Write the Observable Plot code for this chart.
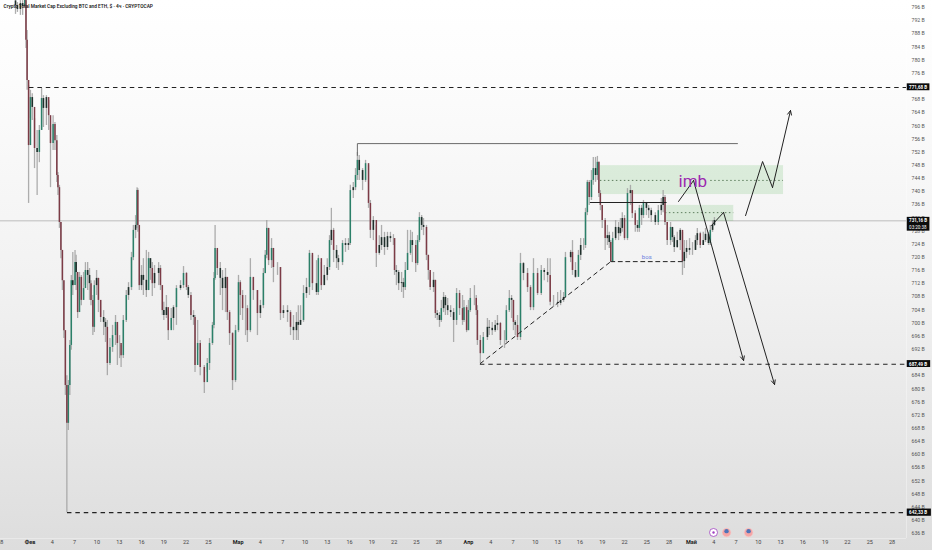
<!DOCTYPE html>
<html><head><meta charset="utf-8">
<script src="https://cdn.jsdelivr.net/npm/d3@7"></script>
<script src="https://cdn.jsdelivr.net/npm/@observablehq/plot@0.6"></script>
<style>html,body{margin:0;padding:0;background:#fff}svg{display:block}</style>
</head><body><div id="c"></div>
<script>
// Candle readings: days since 1 Feb, close, high, low (billions USD)
const candleDay=[-1.96,-1.7,-1.3,-1,-0.7,-0.55,-0.4,-0.2,0.05,0.3,0.6,0.95,1.25,1.55,1.8,2.2,2.5,2.75,3.1,3.35,3.6,3.75,3.95,4.15,4.35,4.55,4.75,4.95,5.15,5.35,5.55,5.75,6.05,6.2,6.4,6.65,6.9,7.2,7.45,7.75,8,8.2,8.45,8.65,8.95,9.2,9.5,9.9,10.15,10.4,10.75,11.1,11.5,11.75,12.05,12.25,12.55,12.95,13.25,13.65,13.9,14.2,14.4,14.5,14.7,15,15.25,15.65,15.95,16.2,16.45,16.75,17.3,17.55,17.8,18,18.35,18.6,19,19.3,19.7,20.25,20.65,21.05,21.3,21.65,22,22.2,22.55,22.9,23.45,23.85,24.15,24.55,24.75,24.9,25.2,25.6,25.9,26.3,26.55,26.85,27.25,27.65,28.05,28.3,28.6,29,29.25,29.65,30.05,30.6,31,31.4,31.65,31.85,32.1,32.5,32.75,33.3,33.7,34.1,34.65,35.05,35.45,35.85,36.1,36.4,36.8,37.2,37.6,38,38.55,38.8,39.2,39.6,40,40.3,40.55,40.85,41.25,41.5,42.05,42.45,42.85,43.1,43.5,43.8,44.05,44.3,44.75,45.15,45.55,45.8,46.2,46.6,47,47.3,47.7,48.1,48.5,48.9,49.05,49.3,49.6,50,50.25,50.5,50.8,51.2,51.45,51.9,52.15,52.4,52.7,52.95,53.35,53.6,53.85,54.3,54.55,54.8,55.1,55.35,55.65,55.9,56.2,56.6,57,57.4,57.8,58.2,58.4,58.75,59,59.25,59.8,60.05,60.2,60.6,61,61.55,61.8,62.2,62.6,62.9,63.3,63.85,64.1,64.5,64.8,65.05,65.3,65.6,66,66.4,66.95,67.35,67.75,68.3,68.8,69.2,69.65,70,70.45,71,71.4,71.8,72.05,72.75,73,73.4,73.8,74.1,74.5,74.75,75,75.25,75.55,75.8,76.1,76.35,76.55,76.75,77,77.4,77.7,77.95,78.15,78.4,78.8,79.2,79.45,79.7,80,80.4,80.8,81.05,81.45,81.75,82,82.3,82.55,82.95,83.25,83.6,84.15,84.55,84.95,85.2,85.45,85.75,86.2,86.45,86.7,87.1,87.5,87.8,88.05,88.35,88.75,89.15,89.55,89.8,90.2,90.6,90.9,91.3,91.55,91.85,92.1];
const candleClose=[796.6,795.4,797.2,796.3,801.2,786,773.8,754,768.6,765.6,753.1,751.9,758.6,768.3,765.3,768.6,763.1,754.6,760.4,755.5,744.9,741.2,730.6,722.1,712.9,697.7,681,669.5,681,693.2,712.9,711.4,718.4,715.4,703.2,713.9,706.9,710.5,716,714.5,712,706.9,698.7,711.4,713.6,706.9,701.7,700.2,698.7,687.7,692.6,696.2,700.2,693.8,693.8,690.1,700.8,708.4,710.8,719.9,728.2,729.7,740.3,729.7,711.4,714.5,713,709.9,719.6,716.6,712,715.1,716.6,711.4,703.8,702.3,704.7,697.7,701.4,704.7,710.5,711.4,715.1,710.8,708.4,702.3,701.7,687.1,693.8,686.5,681.9,687.7,693.8,699.3,713.6,722.7,716.6,713.6,710.5,713.9,703.2,696.8,682.5,697.7,712.3,708.4,704.4,704.4,697.7,713.9,709.9,702.9,705.3,715.1,720.6,728.8,719,722.7,716.9,716.9,702.9,703.8,703.2,698.7,697.7,700.2,699.3,700.8,709,710.8,721.2,712,709.3,719.6,711.4,714.5,716.9,725.1,728.2,722.1,719.6,718.4,724.2,723.6,724.2,740.3,741.2,744.9,749.5,746.4,743.4,748.5,736.4,728.2,731.2,721.2,723.6,726,723,726.3,725.7,725.7,716,715.4,712,712.3,710.8,716,721.2,725.1,723.6,718.1,725.1,732.1,729.7,729.1,720.6,716,710.8,713,702.9,702.3,700.8,704.4,707.8,705.3,703.8,703.2,700.8,709,704.4,700.8,704.7,697.7,703.8,707.5,707.5,703.8,694.7,690.7,695.6,698.7,698.4,697.7,699.3,699.9,694.7,694.7,703.8,707.5,706.9,700.2,699.3,695.6,718.1,715.1,710.8,704.7,715.1,709,716,715.4,714.5,706.3,706.3,706,706.9,707.8,719.9,721.5,716,713.9,720.6,723.6,723.6,733.6,742.8,738.2,743.4,747,744.9,748.9,739.4,735.8,731.2,725.7,726.6,724.5,718.7,725.7,729.1,727.2,728.8,731.8,725.7,739.4,740.3,733.3,729.7,728.8,734.9,732.7,736.4,734.9,734.2,732.7,730.6,734.2,735.8,738.2,730.6,725.1,729.1,726,723,725.1,728.2,718.7,721.5,722.7,722.1,722.1,725.1,727.2,723.6,725.1,727,724.2,728.2,729.7,731.2];
const candleHigh=[798.1,797.5,798.1,798.1,805,798,789,772.3,770.8,769.8,762.2,758.6,760.1,771.4,769.2,769.2,767.7,760.1,763.1,761,757.1,745.8,741.9,730.6,722.1,712.9,697.7,684,682.5,694.7,714.5,721.5,722.1,720.6,712.9,715.4,714.5,715.4,718.4,718.4,716.6,712.9,708.4,712.9,716,713.6,706.9,703.8,701.4,700.8,695.3,699.3,702.3,699.3,696.2,693.2,702.3,709.9,712.3,721.5,729.7,732.7,741.2,740.9,729.7,717.5,719.6,722.1,721.5,719.6,718.4,717.5,718.4,717.5,711.4,706.3,708.4,703.8,704.4,705.3,711.4,712.9,717.2,715.4,711.4,709.3,703.8,702.3,700.8,694.7,687.1,689.2,695.3,700.2,715.4,729.7,722.1,718.4,716,716.6,713.6,703.8,697.1,699.3,714.5,712.9,709.9,708.4,705.3,719.6,713.6,709.9,706.9,716.6,722.1,731.2,728.8,725.7,722.7,718.4,716.9,705.3,705.3,703.8,702.3,703.2,705.3,705.3,711.4,713.6,722.1,720.6,719,720.6,718.4,717.5,719.6,726.6,734.9,728.8,723.6,720.6,725.1,725.7,725.7,741.9,742.8,747,751.9,751,747,749.5,747.9,737.3,732.4,729.7,726.6,729.7,727.6,727.6,727.6,726.9,725.7,717.5,716,715.4,713.6,718.4,728.2,728.2,727.6,725.1,726.6,733.6,732.7,731.8,729.7,720.6,715.4,715.4,713,703.8,703.2,706.9,709.3,708.4,707.5,705.3,704.4,710.5,709.9,708.4,706.9,705.3,706.9,710.5,711.4,708.4,705.3,696.2,697.1,701.4,700.8,700.2,700.8,702.3,700.2,697.7,705.3,709.9,708.4,706.9,700.8,702.3,721.2,718.4,716.6,711.4,719.6,716.6,717.5,716.6,719.6,719.6,708.4,709.3,709.9,709.3,721.5,722.1,725.1,718.4,722.1,725.7,725.7,734.9,743.4,743.4,746.4,750.4,750.4,750.7,748.9,740.3,735.8,731.8,729.7,727.6,725.1,727.6,731.2,730.6,731.8,733.6,732.7,740.9,741.9,740.3,734.2,731.2,735.8,735.8,737.3,736.7,735.8,734.9,733.6,735.8,737.9,740.3,738.8,730.6,730.6,728.8,726.6,727.6,728.8,727.6,725.1,725.1,725.7,724.5,726.6,728.8,727.6,727.6,728.8,727.6,729.7,731.2,732.1];
const candleLow=[793.9,794.5,793.6,793.6,796,783.5,770.8,736.4,762.2,761.6,747,738.8,748.8,758.6,759.5,760.1,758.6,741.2,752.5,752.5,742.8,738.8,728.8,719.6,709.9,695.3,678,642.4,667.3,678,691.7,708.4,712.9,709.9,701.4,706.9,705.3,706.9,711.4,709.9,706.9,705.3,696.2,697.1,708.4,703.2,700.2,696.2,694.1,684,687.1,691.1,693.2,687.1,689.2,686.5,689.2,700.2,706.9,709.9,719,725.7,728.8,727.6,709.9,709.9,708.4,707.8,709.9,713,708.1,710.5,711.4,709.9,702.3,700.8,701.4,694.7,698.3,697.7,699.3,709.9,710.5,709.9,707.5,700.8,699.3,685,691.7,684,678.6,685,685.6,693.2,698.3,713,714.5,708.4,703.8,703.2,700.8,693.2,679.5,681.9,697.1,702.3,700.8,696.2,694.1,697.1,706.9,696.2,701.4,704.4,715,719.6,717.5,716.6,712.3,714.5,700.8,701.4,700.2,696.2,694.7,694.7,694.7,700.2,700.2,707.5,708.4,709.9,708.4,708.4,709.9,711.4,712.9,716,723.6,718.4,716.6,716,717.5,721.5,722.1,723.6,737.9,740.3,743.4,743.4,740.3,742.8,734.9,725.7,725.1,716.9,720.6,722.1,720.6,722.1,724.5,723.6,714.5,711.4,709.9,709.3,707.5,709.9,716,720.6,718.4,715.4,717.5,724.5,728.2,726.6,719,713,709.9,709.3,701.4,700.8,698.7,700.2,703.2,702.3,702.3,701.7,694.1,699.3,702.3,699.3,700.2,697.1,697.7,703.2,705.3,702.3,693.2,687.7,691.7,694.7,696.2,696.2,697.1,697.7,693.2,692.3,694.1,703.2,701.4,697.7,696.2,694.7,694.7,712.9,709.3,703.8,703.8,708.4,708.4,712.9,712.3,705.3,704.7,704.7,705.3,706.3,707.5,718.4,714.5,713.6,714.5,719,722.1,722.7,732.7,735.8,737.3,741.9,742.8,743.4,738.2,734.2,728.8,722.1,723.6,722.7,718.4,718.4,725.1,725.1,726.3,727.6,725.1,725.1,735.8,731.8,727.6,727.6,727.6,729.7,731.8,732.7,731.8,730.6,729.7,729.7,732.7,733.6,729.7,723.6,723.6,724.5,721.5,722.7,722.1,714.5,716.6,719.6,720.6,720.6,722.1,723.6,722.7,723.6,724.5,723.6,723.6,727.6,729.4];

const priceTicks=d3.range(636,797,4).filter(v=>v!==772&&v!==688);
const dayTicks=[-4,3,6,9,12,15,18,21,24,31,34,37,40,43,46,49,52,55,62,65,68,71,74,77,80,83,86,92,95,98,101,104,107,110,113,116];
const dayLabels=["28","4","7","10","13","16","19","22","25","4","7","10","13","16","19","22","25","28","4","7","10","13","16","19","22","25","28","4","7","10","13","16","19","22","25","28"];
const monthTicks=[0,28,59,89];
const monthLabels=["Фев","Мар","Апр","Май"];

const levelValues=[771.68,687.49,642.33];
const levelStarts=[-0.08,60.6,5.03];
const levelLabels=["771,68 B","687,49 B","642,33 B"];
const currentPrice=731.16;
const currentLabel="731,16 B";
const countdown="03:20:38";
const edgeDay=117.95;

const zoneDays=[[76.75,101.4],[85.5,94.7]];
const zoneTops=[747.9,735.8];
const zoneBottoms=[739.1,730.9];
const dottedDays=[[76.75,86.2],[91.6,101.4],[85.5,94.7]];
const dottedValues=[743.4,743.4,733.6];

const paths=[
 {days:[87.27,89.29,96.02],vals:[736.99,743.37,688.62]},
 {days:[91.71,93.33,100.19],vals:[729.7,733.64,681.32]},
 {days:[96.29,98.58,99.92,102.34],vals:[732.7,749.15,741.24,764.67]}
];
const eventDays=[91.98,93.73,96.7];
const eventValue=636.3;

const t0=Date.UTC(2025,1,1);
const D=d=>new Date(t0+d*864e5);

const candles=candleDay.map((d,i)=>{
  const open=i?candleClose[i-1]:798;
  return {x:D(d),open,close:candleClose[i],high:candleHigh[i],low:candleLow[i],
    kind:Math.abs(candleClose[i]-open)<3.5?"small":candleClose[i]>=open?"up":"down"};
});
const zones=zoneDays.map((z,i)=>({x1:D(z[0]),x2:D(z[1]),y1:zoneTops[i],y2:zoneBottoms[i]}));
const dotted=dottedDays.map((z,i)=>({x1:D(z[0]),x2:D(z[1]),y:dottedValues[i]}));
const levels=levelValues.map((v,i)=>({x1:D(levelStarts[i]),x2:D(edgeDay),y:v}));
const F="Roboto, 'Noto Sans', sans-serif";
const rectBox=(v,hu,hd,end)=>({x1:D(edgeDay+0.1),x2:D(end),y1:v+hu,y2:v-hd});
const boxes=[rectBox(771.68,1.1,1.0,121.1),rectBox(687.49,1.1,1.0,121.2),rectBox(642.33,1.1,1.1,121.3),rectBox(731.16,1.0,3.2,121.1)];

const chart=Plot.plot({
  width:932,height:550,marginTop:0,marginLeft:0,marginRight:26,marginBottom:12,
  style:{background:"linear-gradient(#ffffff 0%,#fcfcfc 15%,#f2f2f2 50%,#e6e6e6 80%,#dddddd 100%)",fontFamily:F,overflow:"hidden"},
  x:{type:"utc",domain:[D(-3.98),D(edgeDay)],axis:null},
  y:{domain:[634.47,798.13],axis:null},
  marks:[
    Plot.ruleY([currentPrice],{stroke:"#cfcfcf",strokeWidth:1.5}),
    Plot.rect(zones,{x1:"x1",x2:"x2",y1:"y1",y2:"y2",fill:"#4caf50",fillOpacity:0.17}),
    Plot.ruleY(dotted,{x1:"x1",x2:"x2",y:"y",stroke:"#5f7f5f",strokeWidth:1,strokeDasharray:"1.5,2.5"}),
    Plot.ruleX(candles,{x:"x",y1:"low",y2:"high",stroke:"#a0a0a0",strokeWidth:1.3,strokeOpacity:0.85,clip:true}),
    Plot.ruleX(candles.filter(c=>c.kind==="up"),{x:"x",y1:"open",y2:"close",stroke:"#2b8069",strokeWidth:1.5,clip:true}),
    Plot.ruleX(candles.filter(c=>c.kind==="down"),{x:"x",y1:"open",y2:"close",stroke:"#7c3b46",strokeWidth:1.5,clip:true}),
    Plot.ruleX(candles.filter(c=>c.kind==="small"),{x:"x",y1:"open",y2:"close",stroke:"#1f2f2b",strokeWidth:1.6,clip:true}),
    // levels
    Plot.ruleY(levels,{x1:"x1",x2:"x2",y:"y",stroke:"#222",strokeWidth:1.1,strokeDasharray:"4.5,3.9"}),
    Plot.line([[60.6,687.7],[78.15,718.7]],{x:d=>D(d[0]),y:d=>d[1],stroke:"#222",strokeWidth:1,strokeDasharray:"4,4"}),
    Plot.line([[78.15,718.7],[87.8,718.7]],{x:d=>D(d[0]),y:d=>d[1],stroke:"#222",strokeWidth:1,strokeDasharray:"4,3.5"}),
    Plot.line([[44.05,751],[44.05,754.6],[95.2,754.6]],{x:d=>D(d[0]),y:d=>d[1],stroke:"#6a6a6a",strokeWidth:1}),
    Plot.line([[75.4,736.7],[85.6,736.7]],{x:d=>D(d[0]),y:d=>d[1],stroke:"#222",strokeWidth:1.1}),
    ...paths.flatMap(p=>{
      const pts=p.days.map((d,i)=>({x:D(d),y:p.vals[i]}));
      const n=pts.length;
      return [
        Plot.line(pts.slice(0,n-1),{x:"x",y:"y",stroke:"#222",strokeWidth:1}),
        Plot.arrow([{a:pts[n-2],b:pts[n-1]}],{x1:d=>d.a.x,y1:d=>d.a.y,x2:d=>d.b.x,y2:d=>d.b.y,stroke:"#222",strokeWidth:1,bend:0,headLength:7,headAngle:50})
      ];
    }),
    Plot.text(["imb"],{x:D(89.2),y:743.2,text:d=>d,fill:"#9c27b0",fontSize:17,fontWeight:400,textAnchor:"middle",lineAnchor:"middle"}),
    Plot.text(["bos"],{x:D(83),y:720,text:d=>d,fill:"#6a80e0",fontSize:6,textAnchor:"middle",lineAnchor:"middle"}),
    // axes
    Plot.axisX({anchor:"bottom",ticks:dayTicks.map(D),tickSize:0,tickPadding:2,fontSize:5.5,fill:"#444",
      tickFormat:(d)=>dayLabels[dayTicks.indexOf(Math.round((+d-t0)/864e5))]}),
    Plot.axisX({anchor:"bottom",ticks:monthTicks.map(D),tickSize:0,tickPadding:2,fontSize:5.5,fontWeight:700,fill:"#222",
      tickFormat:(d)=>monthLabels[monthTicks.indexOf(Math.round((+d-t0)/864e5))]}),
    Plot.axisY({anchor:"right",ticks:priceTicks,tickSize:0,tickPadding:5,fontSize:5.2,fill:"#555",tickFormat:v=>v+" B"}),
    Plot.ruleY([634.47],{stroke:"#fff",strokeOpacity:0.35}),
    Plot.ruleX([D(edgeDay)],{stroke:"#fff",strokeOpacity:0.35}),
    // events
    Plot.dot(eventDays.slice(0,1),{x:D,y:()=>eventValue,r:4,fill:"#fff",stroke:"#a040c0",strokeWidth:0.8}),
    Plot.dot(eventDays.slice(0,1),{x:D,y:()=>eventValue,r:1.2,fill:"#a040c0"}),
    Plot.dot(eventDays.slice(1),{x:D,y:()=>eventValue,r:4.3,fill:"#f4a6a6",stroke:"#f8c8c8",strokeWidth:0.6}),
    Plot.dot(eventDays.slice(1),{x:D,y:()=>eventValue+0.4,r:2.2,fill:"#4f74b8"}),
    // price labels
    Plot.rect(boxes,{x1:"x1",x2:"x2",y1:"y1",y2:"y2",fill:"#0c0c0c"}),
    Plot.text(levelValues,{x:D(edgeDay+0.35),y:d=>d,text:(d,i)=>levelLabels[i],fill:"#fff",fontSize:4.5,fontWeight:700,textAnchor:"start",lineAnchor:"middle"}),
    Plot.text([currentPrice],{x:D(edgeDay+0.35),y:d=>d,text:()=>currentLabel,fill:"#fff",fontSize:4.5,fontWeight:700,textAnchor:"start",lineAnchor:"middle"}),
    Plot.text([currentPrice-2.1],{x:D(edgeDay+0.35),y:d=>d,text:()=>countdown,fill:"#fff",fontSize:4.5,textAnchor:"start",lineAnchor:"middle"}),
    // title
    Plot.text(["Crypto Total Market Cap Excluding BTC and ETH, $ · 4ч · CRYPTOCAP"],{frameAnchor:"top-left",dx:3,dy:4.5,text:d=>d,fontSize:4.8,fontWeight:600,fill:"#222",textAnchor:"start",lineAnchor:"top"})
  ]
});
document.getElementById("c").appendChild(chart);
</script></body></html>
